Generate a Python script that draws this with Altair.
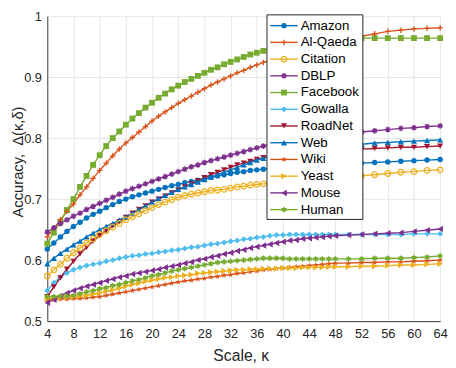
import altair as alt
import pandas as pd

kappa = [4, 5, 6, 7, 8, 9, 10, 11, 12, 13, 14, 15, 16, 17, 18, 19, 20, 21, 22, 23,
         24, 25, 26, 27, 28, 29, 30, 31, 32, 33, 34, 35, 36, 37, 38, 39, 40, 41, 42, 43,
         44, 45, 46, 47, 48, 50, 52, 54, 56, 58, 60, 62, 64]

amazon = [0.618, 0.628, 0.638, 0.647, 0.655, 0.662, 0.669, 0.675, 0.680, 0.686,
          0.691, 0.696, 0.700, 0.704, 0.707, 0.710, 0.713, 0.716, 0.719, 0.722,
          0.724, 0.727, 0.729, 0.731, 0.733, 0.736, 0.738, 0.740, 0.742, 0.744,
          0.745, 0.747, 0.748, 0.749, 0.750, 0.751, 0.752, 0.753, 0.754, 0.754,
          0.755, 0.755, 0.756, 0.756, 0.757,
          0.758, 0.759, 0.760, 0.761, 0.762, 0.763, 0.764, 0.765]
alqaeda = [0.638, 0.652, 0.666, 0.680, 0.692, 0.707, 0.720, 0.734, 0.747, 0.759,
           0.771, 0.782, 0.792, 0.801, 0.810, 0.819, 0.828, 0.836, 0.843, 0.850,
           0.857, 0.863, 0.869, 0.875, 0.881, 0.887, 0.892, 0.897, 0.902, 0.907,
           0.911, 0.916, 0.920, 0.924, 0.928, 0.931, 0.935, 0.938, 0.942, 0.945,
           0.948, 0.951, 0.953, 0.956, 0.958,
           0.962, 0.967, 0.971, 0.975, 0.977, 0.979, 0.980, 0.981]
citation = [0.574, 0.584, 0.593, 0.603, 0.612, 0.620, 0.628, 0.635, 0.642, 0.648,
            0.654, 0.660, 0.666, 0.671, 0.676, 0.681, 0.686, 0.691, 0.695, 0.699,
            0.703, 0.706, 0.708, 0.710, 0.712, 0.714, 0.715, 0.716, 0.718, 0.720,
            0.721, 0.723, 0.724, 0.725, 0.726, 0.727, 0.728, 0.729, 0.730, 0.731,
            0.732, 0.733, 0.734, 0.735, 0.736,
            0.737, 0.738, 0.740, 0.742, 0.744, 0.745, 0.747, 0.748]
dblp = [0.646, 0.653, 0.660, 0.666, 0.672, 0.677, 0.683, 0.688, 0.693, 0.698,
        0.703, 0.708, 0.713, 0.717, 0.721, 0.725, 0.729, 0.733, 0.737, 0.741,
        0.745, 0.749, 0.753, 0.756, 0.760, 0.763, 0.766, 0.769, 0.772, 0.775,
        0.778, 0.781, 0.784, 0.787, 0.789, 0.791, 0.793, 0.795, 0.797, 0.799,
        0.800, 0.801, 0.803, 0.804, 0.805,
        0.808, 0.810, 0.812, 0.814, 0.816, 0.817, 0.819, 0.820]
facebook = [0.627, 0.645, 0.663, 0.682, 0.700, 0.720, 0.738, 0.756, 0.772, 0.787,
            0.800, 0.811, 0.822, 0.832, 0.841, 0.850, 0.858, 0.866, 0.873, 0.880,
            0.886, 0.892, 0.897, 0.902, 0.907, 0.912, 0.916, 0.921, 0.925, 0.929,
            0.933, 0.937, 0.940, 0.943, 0.946, 0.949, 0.952, 0.954, 0.956, 0.958,
            0.960, 0.961, 0.962, 0.963, 0.963,
            0.964, 0.964, 0.964, 0.964, 0.964, 0.964, 0.964, 0.964]
gowalla = [0.550, 0.563, 0.572, 0.579, 0.584, 0.588, 0.591, 0.593, 0.595, 0.598,
           0.600, 0.603, 0.605, 0.607, 0.608, 0.610, 0.611, 0.613, 0.614, 0.616,
           0.617, 0.619, 0.621, 0.622, 0.624, 0.626, 0.627, 0.629, 0.631, 0.632,
           0.634, 0.635, 0.637, 0.638, 0.640, 0.641, 0.641, 0.642, 0.642, 0.642,
           0.642, 0.642, 0.642, 0.642, 0.642,
           0.642, 0.642, 0.642, 0.642, 0.642, 0.643, 0.643, 0.643]
roadnet = [0.540, 0.556, 0.571, 0.585, 0.598, 0.610, 0.621, 0.631, 0.640, 0.648,
           0.656, 0.663, 0.670, 0.677, 0.683, 0.689, 0.695, 0.700, 0.705, 0.710,
           0.715, 0.720, 0.725, 0.730, 0.735, 0.740, 0.744, 0.748, 0.752, 0.756,
           0.759, 0.762, 0.765, 0.768, 0.770, 0.772, 0.773, 0.774, 0.775, 0.776,
           0.777, 0.778, 0.778, 0.779, 0.779,
           0.780, 0.782, 0.783, 0.784, 0.785, 0.785, 0.786, 0.787]
web = [0.594, 0.603, 0.611, 0.618, 0.625, 0.631, 0.638, 0.644, 0.650, 0.655,
       0.660, 0.666, 0.671, 0.677, 0.683, 0.689, 0.695, 0.701, 0.706, 0.711,
       0.716, 0.720, 0.724, 0.728, 0.732, 0.736, 0.740, 0.744, 0.748, 0.752,
       0.756, 0.760, 0.764, 0.767, 0.770, 0.773, 0.775, 0.777, 0.779, 0.781,
       0.782, 0.783, 0.784, 0.785, 0.786,
       0.788, 0.790, 0.792, 0.793, 0.794, 0.795, 0.796, 0.797]
wiki = [0.535, 0.535, 0.536, 0.536, 0.537, 0.537, 0.538, 0.539, 0.540, 0.542,
        0.544, 0.546, 0.548, 0.550, 0.552, 0.554, 0.556, 0.558, 0.560, 0.562,
        0.564, 0.566, 0.567, 0.569, 0.570, 0.572, 0.573, 0.575, 0.576, 0.578,
        0.579, 0.581, 0.582, 0.584, 0.585, 0.586, 0.587, 0.588, 0.589, 0.590,
        0.591, 0.592, 0.593, 0.594, 0.595,
        0.595, 0.596, 0.596, 0.597, 0.597, 0.598, 0.599, 0.600]
yeast = [0.537, 0.537, 0.538, 0.539, 0.540, 0.541, 0.542, 0.544, 0.546, 0.549,
         0.551, 0.554, 0.557, 0.560, 0.562, 0.565, 0.567, 0.569, 0.571, 0.572,
         0.574, 0.575, 0.576, 0.578, 0.579, 0.580, 0.581, 0.582, 0.583, 0.584,
         0.584, 0.585, 0.585, 0.586, 0.586, 0.586, 0.587, 0.587, 0.587, 0.588,
         0.588, 0.588, 0.588, 0.589, 0.589,
         0.589, 0.590, 0.590, 0.591, 0.592, 0.592, 0.593, 0.594]
mouse = [0.530, 0.535, 0.541, 0.546, 0.550, 0.554, 0.557, 0.560, 0.563, 0.566,
         0.569, 0.572, 0.574, 0.577, 0.579, 0.581, 0.583, 0.585, 0.588, 0.590,
         0.592, 0.595, 0.597, 0.600, 0.602, 0.605, 0.607, 0.610, 0.612, 0.615,
         0.617, 0.620, 0.622, 0.624, 0.626, 0.628, 0.630, 0.632, 0.633, 0.635,
         0.636, 0.637, 0.638, 0.639, 0.640,
         0.641, 0.642, 0.643, 0.644, 0.645, 0.647, 0.649, 0.651]
human = [0.540, 0.540, 0.541, 0.541, 0.542, 0.545, 0.548, 0.550, 0.553, 0.555,
         0.558, 0.560, 0.563, 0.566, 0.568, 0.571, 0.574, 0.576, 0.579, 0.582,
         0.584, 0.586, 0.588, 0.590, 0.592, 0.594, 0.596, 0.597, 0.598, 0.599,
         0.600, 0.601, 0.602, 0.603, 0.603, 0.603, 0.603, 0.602, 0.602, 0.602,
         0.602, 0.602, 0.602, 0.602, 0.602,
         0.602, 0.602, 0.603, 0.603, 0.603, 0.604, 0.605, 0.607]

names = ["Amazon", "Al-Qaeda", "Citation", "DBLP", "Facebook", "Gowalla",
         "RoadNet", "Web", "Wiki", "Yeast", "Mouse", "Human"]
series = [amazon, alqaeda, citation, dblp, facebook, gowalla,
          roadnet, web, wiki, yeast, mouse, human]

x_ticks = [4, 8, 12, 16, 20, 24, 28, 32, 36, 40, 44, 48, 52, 56, 60, 64]
y_ticks = [0.5, 0.6, 0.7, 0.8, 0.9, 1.0]

# styles
colors = ["#0072BD", "#D95319", "#EDB120", "#7E2F8E", "#77AC30", "#4DBEEE",
          "#A2142F", "#0072BD", "#D95319", "#EDB120", "#7E2F8E", "#77AC30"]
PLUS = "M-1,0L1,0M0,-1L0,1"
ASTER = "M-1,0L1,0M0,-1L0,1M-0.7,-0.7L0.7,0.7M-0.7,0.7L0.7,-0.7"
STAR5 = ("M0,-1L0.2245,-0.309L0.951,-0.309L0.363,0.118L0.588,0.809L0,0.382"
         "L-0.588,0.809L-0.363,0.118L-0.951,-0.309L-0.2245,-0.309Z")
HEX = ("M0,-1L0.289,-0.5L0.866,-0.5L0.577,0L0.866,0.5L0.289,0.5L0,1"
       "L-0.289,0.5L-0.866,0.5L-0.577,0L-0.866,-0.5L-0.289,-0.5Z")
shapes = ["circle", PLUS, "circle", ASTER, "square", "diamond",
          "triangle-down", "triangle-up", STAR5, "triangle-right", "triangle-left", HEX]
sizes = [30, 45, 30, 45, 36, 45, 55, 55, 75, 55, 55, 75]
open_names = ["Al-Qaeda", "Citation", "DBLP"]
filled_names = [n for n in names if n not in open_names]

rows = []
for n, vals in zip(names, series):
    for k, v in zip(kappa, vals):
        rows.append({"name": n, "kappa": k, "acc": v})
df = pd.DataFrame(rows)
leg_df = pd.DataFrame({"name": names})

FONT = "Liberation Sans"
color_enc = alt.Color("name:N", scale=alt.Scale(domain=names, range=colors), legend=None)
shape_enc = alt.Shape("name:N", scale=alt.Scale(domain=names, range=shapes), legend=None)
size_enc = alt.Size("name:N", scale=alt.Scale(domain=names, range=sizes), legend=None)

x_enc = alt.X("kappa:Q",
              scale=alt.Scale(domain=[4, 64], nice=False, zero=False),
              axis=alt.Axis(values=x_ticks, title="Scale, κ", labelPadding=7,
                            labelFlush=False, labelOverlap=False,
                            titleY=40.5, titleX=197, titleBaseline="alphabetic"))
y_enc = alt.Y("acc:Q",
              scale=alt.Scale(domain=[0.5, 1.0], nice=False, zero=False),
              axis=alt.Axis(values=y_ticks, format=".1~f",
                            labelFlush=False, labelOverlap=False,
                            title="Accuracy,\u00a0\u00a0Δ(κ,δ)", labelPadding=6,
                            titleAngle=270, titleX=-25, titleY=148,
                            titleFontSize=15,
                            titleAlign="center", titleBaseline="alphabetic"))

base = alt.Chart(df)
lines = base.mark_line(strokeWidth=1.4).encode(x=x_enc, y=y_enc, color=color_enc)
pts_f = base.transform_filter(
    alt.FieldOneOfPredicate(field="name", oneOf=filled_names)
).mark_point(filled=True, opacity=1).encode(
    x=x_enc, y=y_enc, color=color_enc, shape=shape_enc, size=size_enc)
pts_o = base.transform_filter(
    alt.FieldOneOfPredicate(field="name", oneOf=open_names)
).mark_point(filled=False, opacity=1, strokeWidth=1.3).encode(
    x=x_enc, y=y_enc, color=color_enc, shape=shape_enc, size=size_enc)
data_layer = alt.layer(lines, pts_f, pts_o)

# legend drawn as marks (plot origin is at page x=48, y=13)
ly = alt.Y("name:N", scale=alt.Scale(type="point", domain=names, range=[9.7, 197], padding=0),
           axis=None)
box = alt.Chart(pd.DataFrame({"a": [0]})).mark_rect(
    fill="white", stroke="#262626", strokeWidth=1
).encode(x=alt.value(223.7), x2=alt.value(321.3), y=alt.value(-1.3), y2=alt.value(207))
lbase = alt.Chart(leg_df)
l_rule = lbase.mark_rule(strokeWidth=1.4).encode(
    x=alt.value(227), x2=alt.value(255), y=ly, color=color_enc)
l_pf = lbase.transform_filter(
    alt.FieldOneOfPredicate(field="name", oneOf=filled_names)
).mark_point(filled=True, opacity=1).encode(
    x=alt.value(241), y=ly, color=color_enc, shape=shape_enc, size=size_enc)
l_po = lbase.transform_filter(
    alt.FieldOneOfPredicate(field="name", oneOf=open_names)
).mark_point(filled=False, opacity=1, strokeWidth=1.3).encode(
    x=alt.value(241), y=ly, color=color_enc, shape=shape_enc, size=size_enc)
l_text = lbase.mark_text(align="left", baseline="middle", fontSize=13.5, font=FONT,
                         color="black").encode(x=alt.value(258), y=ly, text="name:N")
legend_layer = alt.layer(box, l_rule, l_pf, l_po, l_text)

chart = alt.layer(data_layer, legend_layer).resolve_scale(
    y="independent"
).properties(
    width=400, height=310.5,
    autosize=alt.AutoSizeParams(type="none"),
    padding={"left": 40, "top": 5, "right": 8, "bottom": 44.5},
).configure_view(stroke=None).configure_axis(
    gridColor="#e6e6e6", gridWidth=1, domainColor="#404040", domainWidth=1,
    tickSize=0, labelColor="#262626", labelFont=FONT, labelFontSize=13,
    titleFont=FONT, titleFontSize=16, titleFontWeight="normal", titleColor="#262626",
)

chart.save("out.html", embed_options={"renderer": "svg", "actions": False})
